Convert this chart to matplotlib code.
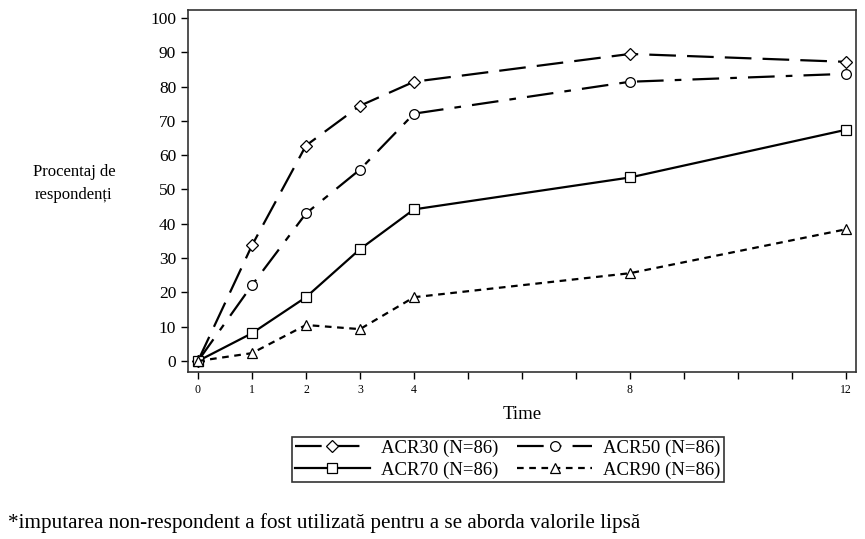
import numpy as np
import matplotlib
matplotlib.use("Agg")
import matplotlib.pyplot as plt

plt.rcParams["font.family"] = ["Liberation Serif", "DejaVu Serif"]

# Data
weeks = [0, 1, 2, 3, 4, 8, 12]
acr30 = [0, 33.7, 62.8, 74.4, 81.4, 89.5, 87.2]
acr50 = [0, 22.1, 43.0, 55.8, 72.1, 81.4, 83.7]
acr70 = [0, 8.1, 18.6, 32.6, 44.2, 53.5, 67.4]
acr90 = [0, 2.3, 10.5, 9.3, 18.6, 25.6, 38.4]
labels = ["ACR30 (N=86)", "ACR50 (N=86)", "ACR70 (N=86)", "ACR90 (N=86)"]

fig = plt.figure(figsize=(8.65, 5.39), dpi=100)
ax = fig.add_axes([0.2173, 0.3098, 0.7723, 0.6716])

common = dict(color="black", linewidth=1.6, markerfacecolor="white",
              markeredgecolor="black", markeredgewidth=0.9)
l30, = ax.plot(weeks, acr30, marker="D", markersize=6, dashes=(12, 5), **common)
l50, = ax.plot(weeks, acr50, marker="o", markersize=7, dashes=(12, 5, 3, 5), **common)
l70, = ax.plot(weeks, acr70, marker="s", markersize=7, linestyle="-", **common)
l90, = ax.plot(weeks, acr90, marker="^", markersize=7, dashes=(3, 2.5), **common)

ax.set_xlim(-0.185, 12.185)
ax.set_ylim(-3.2, 102.3)
ax.set_xticks(range(13))
ax.set_xticklabels([str(w) if w in weeks else "" for w in range(13)], fontsize=8.5)
ax.set_yticks(range(0, 101, 10))
ax.tick_params(axis="y", labelsize=12.5, length=5, width=1)
ax.tick_params(axis="x", length=5, width=1)
for sp in ax.spines.values():
    sp.set_linewidth(1.2)
    sp.set_color("#333333")

ax.set_xlabel("Time", fontsize=13.5, labelpad=7)
fig.text(0.0855, 0.66, "Procentaj de\nrespondenți", fontsize=12, ha="center",
         va="center", linespacing=1.6)

# column-wise fill: order so rows read 30/50 and 70/90
leg = fig.legend([l30, l70, l50, l90], [labels[0], labels[2], labels[1], labels[3]],
                 loc="center", bbox_to_anchor=(0.587, 0.148), ncol=2, fontsize=13.5,
                 frameon=True, fancybox=False, edgecolor="black",
                 handlelength=4.0, columnspacing=1.0, handletextpad=0.6,
                 borderpad=0.15, labelspacing=0.25)
leg.get_frame().set_linewidth(1.2)

fig.text(0.009, 0.03, "*imputarea non-respondent a fost utilizată pentru a se aborda valorile lipsă",
         fontsize=15.2, ha="left", va="center")

fig.savefig("out.png", dpi=100)
